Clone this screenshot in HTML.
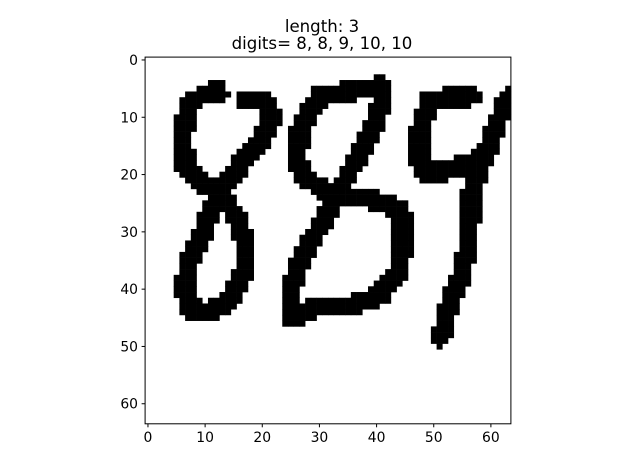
<!DOCTYPE html>
<html><head><meta charset="utf-8"><style>
html,body{margin:0;padding:0;background:#fff;}
svg{display:block;font-family:"DejaVu Sans","Liberation Sans",sans-serif;}
</style></head><body>
<svg id="chart" width="640" height="476" viewBox="0 0 640 476">
  <text x="322" y="32" text-anchor="middle" font-size="16.6">length: 3</text>
  <text x="322" y="49" text-anchor="middle" font-size="16.6">digits= 8, 8, 9, 10, 10</text>
  <g id="cells"></g>
  <rect x="145.1" y="57.1" width="365.8" height="366.7" fill="none" stroke="#000" stroke-width="1"/>
  <g id="xt"></g>
  <g id="yt"></g>
</svg>
<script>
// strokes in image coordinates [col,row]
const eightA = [[16.8,7],[20.5,7],[21.8,9.6],[20,14],[16.1,18.3],[13.5,21.8],[11.2,26.2],[9.1,31.4],[7,35.8],[6.3,40.1],[7.4,43.3],[10.9,44],[14.4,41.9],[17,36.6],[17,31.4],[15.3,27],[12.6,23.6],[9.1,20.9],[6.3,18.3],[6.2,12.2],[7.6,7.2],[10.9,5.6],[12.3,5.6]];
const eightB = [[40.9,4.5],[29.8,6.5],[26.7,12.2],[26,17.5],[27.5,20.6],[31,22.7],[34.6,23.7],[39.8,24.4],[44.2,26.2],[44.7,31.4],[43.9,36.6],[40.7,41],[35.4,42.8],[29.3,43.3],[24.9,45],[24.9,40.1],[26.7,34.9],[30.2,28.8],[32.8,24.4],[35.4,19.2],[38.9,13.1],[41,7],[40.9,4.5]];
const nineLoop = [[56.5,6.3],[49.1,7],[47.7,12.2],[47.2,17.5],[48.6,19.5],[53,19.2],[57.4,17.5]];
const nineStem = [[63,6.6],[60.9,11.3],[58.6,17.5],[56.5,23.6],[56.1,31.4],[55.1,36.6],[53.3,41],[51.2,48.3]];
const strokes = [eightA, eightB, nineLoop, nineStem];
const xTicks = [0,10,20,30,40,50,60];
const yTicks = [0,10,20,30,40,50,60];
const N = 64;
const NS = "http://www.w3.org/2000/svg";
const X0 = 145.1, Y0 = 57.1, CW = 365.8/N, CH = 366.7/N;
const sx = c => X0 + (c + 0.5) * CW;
const sy = r => Y0 + (r + 0.5) * CH;
function segDist(px,py,a,b){
  const dx=b[0]-a[0], dy=b[1]-a[1];
  const L=dx*dx+dy*dy;
  let t = L ? ((px-a[0])*dx+(py-a[1])*dy)/L : 0;
  t=Math.max(0,Math.min(1,t));
  const qx=a[0]+t*dx-px, qy=a[1]+t*dy-py;
  return Math.sqrt(qx*qx+qy*qy);
}
const cells = document.getElementById('cells');
for(let r=0;r<N;r++){
  for(let c=0;c<N;c++){
    let d=1e9;
    for(const s of strokes) for(let i=0;i<s.length-1;i++) d=Math.min(d,segDist(c,r,s[i],s[i+1]));
    if(d<1.75){
      const el=document.createElementNS(NS,'rect');
      
      
      el.setAttribute('x',(X0+c*CW).toFixed(2));
      el.setAttribute('y',(Y0+r*CH).toFixed(2));
      el.setAttribute('width',(CW+0.3).toFixed(2));
      el.setAttribute('height',(CH+0.3).toFixed(2));
      el.setAttribute('fill','#000');
      cells.appendChild(el);
    }
  }
}
const xt=document.getElementById('xt'), yt=document.getElementById('yt');
for(const v of xTicks){
  const x=sx(v);
  const l=document.createElementNS(NS,'line');
  
  
  l.setAttribute('x1',x);l.setAttribute('x2',x);l.setAttribute('y1',423.8);l.setAttribute('y2',427.3);l.setAttribute('stroke','#000');
  xt.appendChild(l);
  const t=document.createElementNS(NS,'text');
  
  
  t.setAttribute('x',x);t.setAttribute('y',442);t.setAttribute('text-anchor','middle');t.setAttribute('font-size','13.9');
  t.textContent=v;xt.appendChild(t);
}
for(const v of yTicks){
  const y=sy(v);
  const l=document.createElementNS(NS,'line');
  
  
  l.setAttribute('x1',141.6);l.setAttribute('x2',145.1);l.setAttribute('y1',y);l.setAttribute('y2',y);l.setAttribute('stroke','#000');
  yt.appendChild(l);
  const t=document.createElementNS(NS,'text');
  
  
  t.setAttribute('x',138);t.setAttribute('y',y+5);t.setAttribute('text-anchor','end');t.setAttribute('font-size','13.9');
  t.textContent=v;yt.appendChild(t);
}
</script>
</body></html>
